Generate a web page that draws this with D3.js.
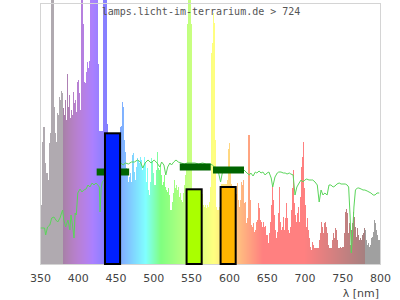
<!DOCTYPE html>
<html>
<head>
<meta charset="utf-8">
<script src="https://cdn.jsdelivr.net/npm/d3@7"></script>
<style>
body { margin: 0; background: #fff; }
svg { display: block; }
.frame { fill: none; stroke: #d4d4d4; stroke-width: 1; }
.title { font-family: "DejaVu Sans Mono", monospace; font-size: 10px; fill: #555; }
.axis-label { font-family: "DejaVu Sans", sans-serif; font-size: 11px; fill: #444; }
.daylight { fill: none; stroke: #5ad55a; stroke-width: 1; }
.peak { fill: #006400; }
.band { stroke: #000; stroke-width: 2; }
</style>
</head>
<body>
<div id="chart"></div>
<script>
// Texts.
var title = 'lamps.licht-im-terrarium.de > 724';
var axisLabel = 'λ [nm]';
var xTicks = [350, 400, 450, 500, 550, 600, 650, 700, 750, 800];

// Lamp spectrum, one value per spectrometer bin, starting at 350 nm.
var lampStart = 350;
var lampStep = 450 / 340;
var lampValues = [
    59, 59, 122, 137, 137, 101, 91, 91, 84, 121,
    131, 280, 280, 280, 157, 131, 122, 151, 149, 167,
    164, 173, 171, 156, 149, 164, 144, 190, 157, 169,
    146, 154, 149, 172, 161, 164, 152, 182, 184, 171,
    154, 280, 280, 240, 182, 181, 192, 202, 196, 203,
    280, 280, 280, 280, 280, 280, 280, 280, 200, 133,
    133, 133, 133, 280, 280, 280, 280, 140,
    130, 130, 130, 130, 130, 130, 130, 130, 130, 130, 130, 130,
    137, 138, 162, 157,
    124, 112, 96, 91, 82, 87, 91, 82, 109, 111,
    92, 84, 97, 106, 104, 101, 107, 104, 94, 97,
    107, 101, 82, 96, 74, 69, 82, 106, 102, 91,
    79, 79, 94, 112, 96, 94, 99, 89, 79, 82,
    89, 77, 74, 72, 76, 69, 54, 54, 62, 71,
    84, 76,
    79, 74, 77, 67, 71, 64, 62, 71, 79, 89,
    101, 240, 280, 280, 280, 240,
    70, 70, 70, 70, 70, 70, 70, 70, 70, 70, 70,
    59, 57, 59, 56, 59, 57, 62, 77,
    211, 221, 251, 241, 124,
    57, 54, 54, 57, 51,
    80, 80, 80, 80, 80, 80,
    84, 115, 121, 95, 80,
    70, 70, 70, 70, 70,
    81, 64, 57, 64, 82, 79, 84,
    61, 62, 41, 46, 129, 129, 64, 39, 37, 41,
    32, 34, 42, 44, 61, 56, 44, 42, 37, 42,
    37, 38, 29, 29, 21, 31, 42, 59, 79, 64,
    49, 34, 26, 32, 51, 77, 42, 34, 37, 47,
    34, 46, 61, 46, 34, 31, 37, 54, 76, 94,
    61, 49, 42, 51, 57, 42, 67, 97, 107, 122,
    76, 59, 37, 46, 34, 26, 17, 14,
    22, 19, 16, 16, 16, 16, 16, 24, 31, 42,
    37, 31, 41, 42, 37, 31, 19, 16, 16, 16,
    24, 31, 26, 36, 34, 24, 16, 16, 17, 16,
    17, 17, 31, 52, 55, 51, 31, 41, 19, 34,
    41, 52, 47, 37, 27, 36, 29, 24, 26, 24,
    29, 31, 36, 34, 24, 19, 21, 17, 19, 26,
    27, 32, 44, 41, 34, 29, 24, 24
];

// Reference daylight spectrum (green line).
var daylightNm = [
    351, 354, 356, 357.5, 360, 363, 365.5, 368.5, 371, 373.5,
    376.5, 379, 380, 381.5, 384, 387, 389.5, 391, 393, 395,
    396.5, 398, 400, 403, 405.5, 408, 411, 413.5, 416, 419,
    421.5, 424, 426.5, 428.5, 429.5, 431, 432.5, 435, 440, 445,
    450, 455, 457, 460, 463, 467, 471, 475, 479, 483,
    486, 489, 493, 497, 501, 505, 508.5, 511, 514, 516.5,
    519, 522, 524, 527, 530, 533, 537, 541, 545, 550,
    555, 560, 565, 570, 575, 578, 581, 585, 589, 592,
    596, 600, 605, 610, 615, 620, 624, 627, 629, 632,
    635, 637, 640, 642.5, 645, 648, 650.5, 653, 656, 658,
    661, 664, 666, 669, 672, 674.5, 677, 680, 682, 685,
    687.5, 690, 693, 695.5, 698, 700.5, 703, 706, 709, 711,
    714, 717, 719.5, 722, 724.5, 727, 730, 732.5, 735, 738,
    740.5, 743, 746, 748.5, 751, 754, 756.5, 758.5, 760.5, 762,
    764, 765.5, 767.5, 770, 772, 775, 777.5, 780, 783, 785.5,
    788, 791, 793.5, 796, 799
];
var daylightValues = [
    36, 36, 36, 29, 37, 39, 46, 47, 44, 42,
    46, 52, 54, 44, 37, 44, 34, 49, 39, 26,
    51, 49, 71, 75, 72, 74, 75, 79, 77, 81,
    79, 81, 79, 77, 52, 76, 82, 84, 90, 94,
    97, 100, 101, 99, 101, 100, 102, 102, 104, 102,
    96, 101, 104, 101, 104, 101, 97, 102, 99, 89,
    97, 101, 99, 102, 104, 102, 101, 100, 101, 101,
    101, 100, 101, 100, 100, 99, 97, 96, 82, 94,
    94, 94, 92, 93, 92, 94, 91, 89, 91, 88,
    92, 91, 93, 91, 92, 89, 91, 92, 86, 77,
    87, 91, 92, 92, 91, 91, 90, 91, 90, 89,
    69, 77, 81, 84, 82, 84, 85, 84, 84, 84,
    82, 79, 62, 74, 69, 71, 69, 79, 79, 77,
    78, 80, 81, 80, 80, 80, 79, 77, 47, 11,
    34, 57, 74, 76, 76, 75, 74, 74, 73, 72,
    71, 69, 69, 71, 71
];

// Colour bands of the lamp (bars).
var bandCentres = [446, 554, 599];
var bandWidths = [20, 20, 20];
var bandValues = [130.7, 74.7, 77];

// Peak ranges (dark green dashes).
var peakFrom = [425, 535, 579];
var peakTo = [468, 576, 620];
var peakValues = [92, 97, 94];

var Chart = Chart || {};

Chart.bandFill = ['#0020ff', '#aaff00', '#ffb400'];

// Wavelength to a pale display colour (50 % white mixed in).
Chart.wavelengthColour = function(nm) {
    if (nm < 380) return '#b0aab0';
    if (nm >= 780) return '#a0a0a0';
    var r = 0, g = 0, b = 0;
    if (nm < 440) { r = (440 - nm) / 60; b = 1; }
    else if (nm < 490) { g = (nm - 440) / 50; b = 1; }
    else if (nm < 510) { g = 1; b = (510 - nm) / 20; }
    else if (nm < 580) { r = (nm - 510) / 70; g = 1; }
    else if (nm < 645) { r = 1; g = (645 - nm) / 65; }
    else { r = 1; }
    var f = 1;
    if (nm < 420) f = 0.3 + 0.7 * (nm - 380) / 40;
    else if (nm > 700) f = 0.3 + 0.7 * (780 - nm) / 80;
    var mix = function(c) { return Math.round(127.5 + 127.5 * c * f); };
    return d3.rgb(mix(r), mix(g), mix(b)).toString();
};

Chart.draw = function(selector, width, height) {
    var svg = d3.select(selector).append('svg')
        .attr('width', width)
        .attr('height', height);

    var x = d3.scaleLinear().domain([350, 800]).range([40, 380]);
    var y = d3.scaleLinear().domain([0, 261]).range([264, 3]);

    // Lamp spectrum as one thin bar per bin.
    svg.append('g')
        .attr('shape-rendering', 'crispEdges')
        .selectAll('rect')
        .data(lampValues)
        .enter().append('rect')
        .attr('x', function(d, i) { return x(lampStart + i * lampStep); })
        .attr('width', function(d, i) {
            return x(lampStart + (i + 1) * lampStep) - x(lampStart + i * lampStep);
        })
        .attr('y', function(d) { return y(d); })
        .attr('height', function(d) { return y(0) - y(d); })
        .attr('fill', function(d, i) {
            return Chart.wavelengthColour(lampStart + (i + 0.5) * lampStep);
        });

    // Plot frame.
    svg.append('rect')
        .attr('class', 'frame')
        .attr('shape-rendering', 'crispEdges')
        .attr('x', x(350)).attr('y', y(261))
        .attr('width', x(800) - x(350))
        .attr('height', y(0) - y(261));

    // Daylight reference line.
    var line = d3.line()
        .x(function(d) { return x(d[0]); })
        .y(function(d) { return y(d[1]); });
    svg.append('path')
        .attr('class', 'daylight')
        .attr('d', line(d3.zip(daylightNm, daylightValues)));

    // Peak ranges.
    svg.append('g')
        .selectAll('rect')
        .data(peakValues)
        .enter().append('rect')
        .attr('class', 'peak')
        .attr('x', function(d, i) { return x(peakFrom[i]); })
        .attr('width', function(d, i) { return x(peakTo[i]) - x(peakFrom[i]); })
        .attr('y', function(d) { return y(d) - 3.5; })
        .attr('height', 7);

    // Colour bands.
    svg.append('g')
        .selectAll('rect')
        .data(bandValues)
        .enter().append('rect')
        .attr('class', 'band')
        .attr('x', function(d, i) { return x(bandCentres[i] - bandWidths[i] / 2); })
        .attr('width', function(d, i) {
            return x(bandCentres[i] + bandWidths[i] / 2) - x(bandCentres[i] - bandWidths[i] / 2);
        })
        .attr('y', function(d) { return y(d); })
        .attr('height', function(d) { return y(0) - y(d); })
        .attr('fill', function(d, i) { return Chart.bandFill[i]; });

    // X axis labels only.
    var axis = svg.append('g')
        .attr('transform', 'translate(0,' + y(0) + ')')
        .call(d3.axisBottom(x).tickValues(xTicks).tickSize(0).tickPadding(10));
    axis.select('.domain').remove();
    axis.selectAll('text')
        .attr('font-family', '"DejaVu Sans", sans-serif')
        .attr('font-size', 11)
        .attr('fill', '#444');

    svg.append('text')
        .attr('class', 'axis-label')
        .attr('x', 379).attr('y', 297)
        .attr('text-anchor', 'end')
        .text(axisLabel);

    svg.append('text')
        .attr('class', 'title')
        .attr('x', 201).attr('y', 15)
        .attr('text-anchor', 'middle')
        .text(title);
};

Chart.draw('#chart', 400, 300);
</script>
</body>
</html>
